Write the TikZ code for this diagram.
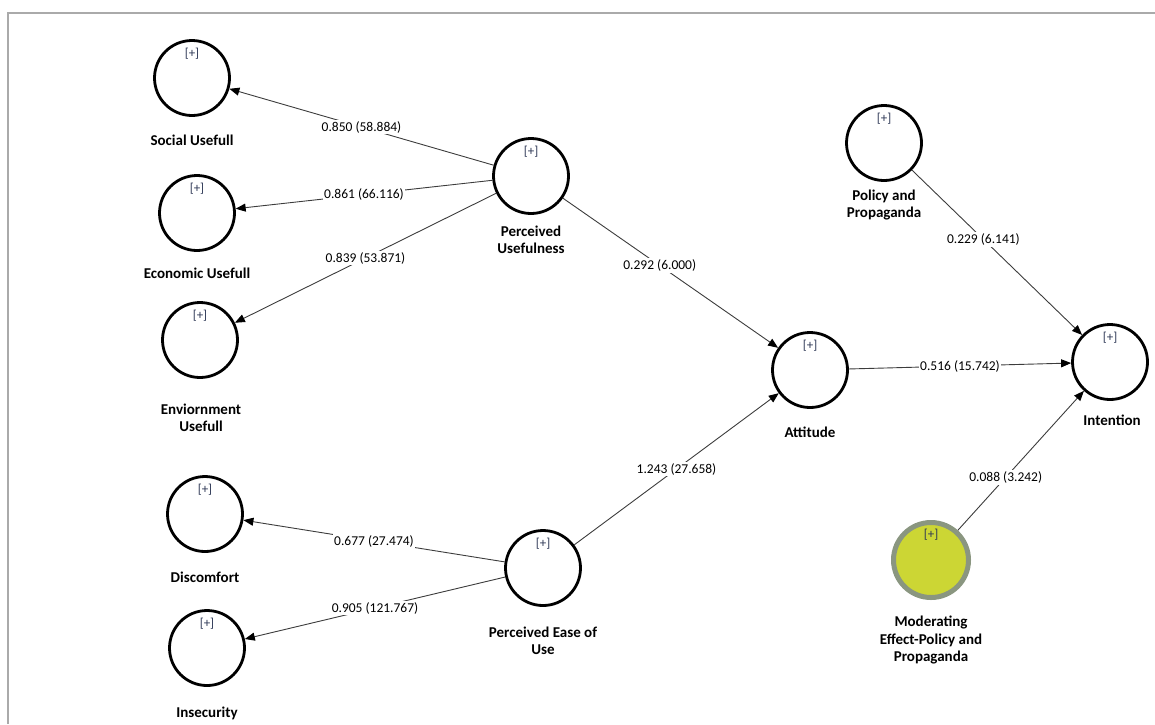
\documentclass[tikz,border=0pt]{standalone}
\usepackage{fontspec}
\setmainfont{Carlito}
\usetikzlibrary{arrows.meta,positioning}
\definecolor{framegray}{RGB}{170,170,170}
\definecolor{edgegray}{RGB}{60,60,60}
\definecolor{plustext}{RGB}{45,55,85}
\definecolor{lime}{RGB}{204,214,52}
\definecolor{limeedge}{RGB}{138,150,128}

\begin{document}
\begin{tikzpicture}[x=1pt,y=-1pt,
  every node/.style={font=\fontsize{13.5}{16}\selectfont,align=center},
  construct/.style={circle,draw=black,line width=2.8pt,minimum size=75pt,inner sep=0pt},
  moderator/.style={construct,fill=lime,draw=limeedge,line width=5pt},
  lbl/.style={font=\fontsize{15}{17.5}\selectfont\bfseries,inner sep=0pt},
  plustag/.style={font=\fontsize{13}{14}\selectfont,text=plustext,inner sep=0pt},
  link/.style={draw=edgegray,line width=0.9pt,-{Triangle[length=10pt,width=8pt,color=black]}},
  coef/.style={fill=white,inner sep=1.5pt,pos=0.5}]
  \useasboundingbox (0,0) rectangle (1155,724);
  \draw[framegray,line width=2pt] (8,724) -- (8,13) -- (1155,13);

  % constructs
  \node[construct] (su) at (192,78) {};
  \node[construct] (eu) at (197,213) {};
  \node[construct] (env) at (200,340) {};
  \node[construct] (pu) at (531,176) {};
  \node[construct] (dis) at (205,514) {};
  \node[construct] (ins) at (207,648) {};
  \node[construct] (peou) at (543,568) {};
  \node[construct] (att) at (810,370) {};
  \node[construct] (pp) at (884,143) {};
  \node[construct] (int) at (1110,362) {};
  \node[moderator] (mod) at (931,560) {};
  \foreach \n in {su,eu,env,pu,dis,ins,peou,att,pp,int,mod}{
    \node[plustag,below=9pt of \n.north] (\n-plus) {[+]};
  }

  % names
  \node[lbl] (su-l) at (192,140) {Social Usefull};
  \node[lbl] (eu-l) at (197,273) {Economic Usefull};
  \node[lbl] (env-l) at (201,418) {Enviornment\\Usefull};
  \node[lbl] (pu-l) at (531,240) {Perceived\\Usefulness};
  \node[lbl] (dis-l) at (205,577) {Discomfort};
  \node[lbl] (ins-l) at (207,713) {Insecurity};
  \node[lbl] (peou-l) at (543,641) {Perceived Ease of\\Use};
  \node[lbl] (att-l) at (810,432) {Attitude};
  \node[lbl] (pp-l) at (884,205) {Policy and\\Propaganda};
  \node[lbl] (int-l) at (1112,420) {Intention};
  \node[lbl] (mod-l) at (931,640) {Moderating\\Effect-Policy and\\Propaganda};

  % paths
  \draw[link] (pu) -- (su) node[coef] {0.850 (58.884)};
  \draw[link] (pu) -- (eu) node[coef] {0.861 (66.116)};
  \draw[link] (pu) -- (env) node[coef] {0.839 (53.871)};
  \draw[link] (peou) -- (dis) node[coef] {0.677 (27.474)};
  \draw[link] (peou) -- (ins) node[coef] {0.905 (121.767)};
  \draw[link] (pu) -- (att) node[coef,pos=0.45] {0.292 (6.000)};
  \draw[link] (peou) -- (att) node[coef] {1.243 (27.658)};
  \draw[link] (att) -- (int) node[coef] {0.516 (15.742)};
  \draw[link] (pp) -- (int) node[coef,pos=0.42] {0.229 (6.141)};
  \draw[link] (mod) -- (int) node[coef,pos=0.38] {0.088 (3.242)};
\end{tikzpicture}
\end{document}
